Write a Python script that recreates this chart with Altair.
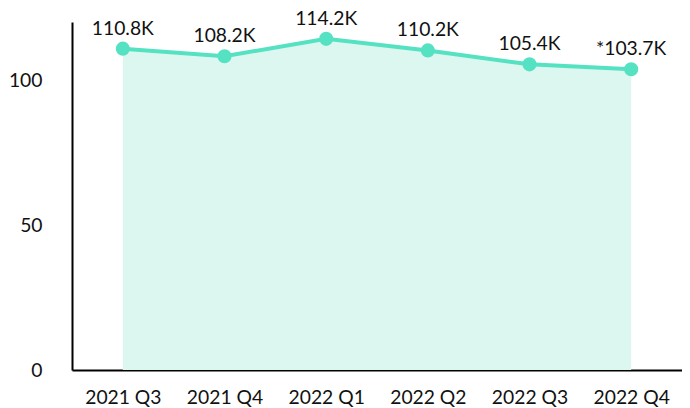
import altair as alt
import pandas as pd

quarters = ["2021 Q3", "2021 Q4", "2022 Q1", "2022 Q2", "2022 Q3", "2022 Q4"]
values = [110.8, 108.2, 114.2, 110.2, 105.4, 103.7]
labels = ["110.8K", "108.2K", "114.2K", "110.2K", "105.4K", "*103.7K"]

df = pd.DataFrame({"q": quarters, "v": values, "lab": labels})

FONT = "Lato"
LINE = "#55e2c2"
AREA = "#dcf7ef"
FS = 19.3

x = alt.X("q:N", sort=quarters, title=None,
          scale=alt.Scale(type="point", padding=0.5),
          axis=alt.Axis(labelAngle=0, ticks=False, labelPadding=18, domainColor="#000",
                        domainWidth=2, labelFont=FONT, labelFontSize=FS, labelColor="#111"))
y = alt.Y("v:Q", title=None, scale=alt.Scale(domain=[0, 120], nice=False),
          axis=alt.Axis(values=[0, 50, 100], ticks=False, grid=False, labelPadding=30,
                        domainColor="#000", domainWidth=2, labelFont=FONT, labelFontSize=FS,
                        labelColor="#111"))

base = alt.Chart(df)
area = base.mark_area(color=AREA, opacity=1).encode(x=x, y=y)
line = base.mark_line(color=LINE, strokeWidth=4).encode(x=x, y=y)
pts = base.mark_circle(color=LINE, opacity=1, size=200).encode(x=x, y=y)
txt = base.mark_text(dy=-20, font=FONT, fontSize=FS, color="#111").encode(x=x, y=y, text="lab:N")

chart = alt.layer(area, line, pts, txt).properties(
    width=610, height=348,
    autosize=alt.AutoSizeParams(type="none"),
    padding={"left": 64, "top": 14, "right": 0, "bottom": 38},
).configure_view(stroke=None)

chart.save("out.html", embed_options={"renderer": "svg", "actions": False})
